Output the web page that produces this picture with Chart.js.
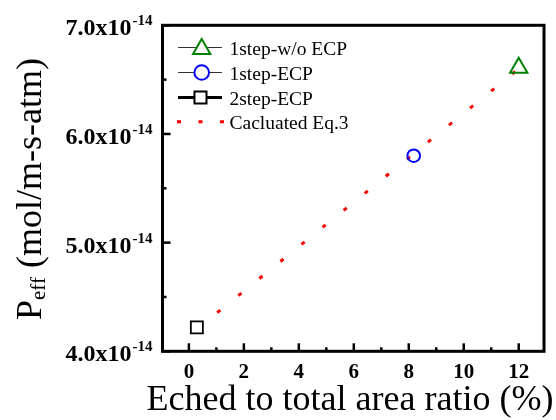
<!DOCTYPE html>
<html><head><meta charset="utf-8">
<script src="https://cdn.jsdelivr.net/npm/chart.js@4/dist/chart.umd.min.js"></script>
<style>html,body{margin:0;padding:0;background:#fff;} #wrap{width:556px;height:420px;position:relative;}</style>
</head><body><div id="wrap"><canvas id="c" width="556" height="420"></canvas></div>
<script>
// ---- data (y in units of 1e-14 mol/m-s-atm) ----
const seriesNames = ['1step-w/o ECP', '1step-ECP', '2step-ECP', 'Cacluated Eq.3'];
const woEcpX = [12.0];  const woEcpY = [6.61];
const ecp1X  = [8.18];  const ecp1Y  = [5.80];
const ecp2X  = [0.29];  const ecp2Y  = [4.22];
const calcX  = [1.03, 12.0]; const calcY = [4.356, 6.60];
const xMajorTicks = [0, 2, 4, 6, 8, 10, 12];
const xMinorTicks = [1, 3, 5, 7, 9, 11];
const yMajorTicks = [4, 5, 6, 7];
const yMinorTicks = [4.5, 5.5, 6.5];
const yTickLabels = ['4.0x10', '5.0x10', '6.0x10', '7.0x10'];
const yTickExp = '-14';
const xTitle = 'Eched to total area ratio (%)';
const yTitleMain = 'P', yTitleSub = 'eff', yTitleRest = ' (mol/m-s-atm)';

const pts = (xs, ys) => xs.map((x, i) => ({x: x, y: ys[i]}));
const SERIF = "'Liberation Serif','Times New Roman',serif";

const decor = {
  id: 'decor',
  afterDraw(chart) {
    const ctx = chart.ctx, a = chart.chartArea;
    const xs = chart.scales.x, ys = chart.scales.y;
    ctx.save();
    // frame
    ctx.strokeStyle = '#000'; ctx.lineWidth = 3;
    ctx.strokeRect(a.left, a.top, a.right - a.left, a.bottom - a.top);
    // inward ticks
    ctx.lineWidth = 2.5;
    const tick = (x1, y1, x2, y2) => { ctx.beginPath(); ctx.moveTo(x1, y1); ctx.lineTo(x2, y2); ctx.stroke(); };
    xMajorTicks.forEach(v => { const p = xs.getPixelForValue(v); tick(p, a.bottom, p, a.bottom - 8); });
    xMinorTicks.forEach(v => { const p = xs.getPixelForValue(v); tick(p, a.bottom, p, a.bottom - 4); });
    yMajorTicks.forEach(v => { const p = ys.getPixelForValue(v); tick(a.left, p, a.left + 8, p); });
    yMinorTicks.forEach(v => { const p = ys.getPixelForValue(v); tick(a.left, p, a.left + 4, p); });
    // x tick labels
    ctx.fillStyle = '#000';
    ctx.font = "bold 21px " + SERIF; ctx.textAlign = 'center'; ctx.textBaseline = 'alphabetic';
    xMajorTicks.forEach(v => ctx.fillText(String(v), xs.getPixelForValue(v), 378));
    // y tick labels with superscript
    yMajorTicks.forEach((v, i) => {
      const p = ys.getPixelForValue(v);
      const right = a.left - 10;
      ctx.textAlign = 'right';
      ctx.font = "bold 15px " + SERIF;
      const ew = ctx.measureText(yTickExp).width;
      ctx.fillText(yTickExp, right, p);
      ctx.font = "bold 24px " + SERIF;
      ctx.fillText(yTickLabels[i], right - ew - 1, p + 10);
    });
    // x title
    ctx.font = "36px " + SERIF; ctx.textAlign = 'center';
    ctx.fillText(xTitle, 350, 410);
    // y title (rotated)
    ctx.save();
    ctx.translate(41, 320); ctx.rotate(-Math.PI / 2);
    ctx.textAlign = 'left';
    ctx.font = "36px " + SERIF;
    ctx.fillText(yTitleMain, 0, 0);
    let off = ctx.measureText(yTitleMain).width;
    ctx.font = "21px " + SERIF;
    ctx.fillText(yTitleSub, off, 4);
    off += ctx.measureText(yTitleSub).width;
    ctx.font = "36px " + SERIF;
    ctx.fillText(yTitleRest, off, 0);
    ctx.restore();
    // legend
    const rows = [47.5, 72.5, 97.5, 121.7];
    ctx.textAlign = 'left'; ctx.font = "19.5px " + SERIF;
    seriesNames.forEach((n, i) => ctx.fillText(n, 229.5, rows[i] + 7));
    ctx.strokeStyle = '#333'; ctx.lineWidth = 1.2;
    tick(178, rows[0], 222, rows[0]);
    tick(178, rows[1], 222, rows[1]);
    ctx.strokeStyle = '#000'; ctx.lineWidth = 3;
    tick(178, rows[2], 222, rows[2]);
    // legend markers
    ctx.fillStyle = '#fff'; ctx.lineWidth = 2;
    ctx.strokeStyle = 'rgb(0,128,0)';
    ctx.beginPath(); const cx = 201.7, cy = rows[0] + 1.5, r = 10;
    ctx.moveTo(cx, cy - r); ctx.lineTo(cx + r * 0.866, cy + r / 2); ctx.lineTo(cx - r * 0.866, cy + r / 2); ctx.closePath();
    ctx.fill(); ctx.stroke();
    ctx.strokeStyle = 'rgb(0,0,255)';
    ctx.beginPath(); ctx.arc(201.7, rows[1], 7.3, 0, Math.PI * 2); ctx.fill(); ctx.stroke();
    ctx.strokeStyle = '#000';
    ctx.beginPath(); ctx.rect(194.5, rows[2] - 6, 12, 12); ctx.fill(); ctx.stroke();
    ctx.strokeStyle = 'rgb(255,0,0)'; ctx.lineWidth = 3; ctx.setLineDash([4, 17.5]);
    tick(177, rows[3], 224, rows[3]);
    ctx.setLineDash([]);
    ctx.restore();
  }
};

new Chart(document.getElementById('c'), {
  type: 'scatter',
  data: {
    datasets: [
      { label: seriesNames[3], type: 'line', data: pts(calcX, calcY), showLine: true,
        borderColor: 'rgb(255,0,0)', borderWidth: 3, borderDash: [4, 23.1], borderCapStyle: 'butt',
        pointRadius: 0, fill: false, order: 3 },
      { label: seriesNames[0], data: pts(woEcpX, woEcpY), pointStyle: 'triangle', pointRadius: 10,
        borderColor: 'rgb(0,128,0)', backgroundColor: 'rgba(0,0,0,0)', borderWidth: 2, order: 1 },
      { label: seriesNames[1], data: pts(ecp1X, ecp1Y), pointStyle: 'circle', pointRadius: 6.3,
        borderColor: 'rgb(0,0,255)', backgroundColor: 'rgba(0,0,0,0)', borderWidth: 2, order: 1 },
      { label: seriesNames[2], data: pts(ecp2X, ecp2Y), pointStyle: 'rect', pointRadius: 8.5,
        borderColor: '#000', backgroundColor: 'rgba(0,0,0,0)', borderWidth: 1.8, order: 1 }
    ]
  },
  options: {
    responsive: false, animation: false, devicePixelRatio: 1,
    layout: { padding: { left: 162.5, right: 5.5, top: 25.3, bottom: 68.7 } },
    plugins: { legend: { display: false }, tooltip: { enabled: false } },
    scales: {
      x: { type: 'linear', min: -0.96, max: 12.92, display: false },
      y: { type: 'linear', min: 4, max: 7, display: false }
    }
  },
  plugins: [decor]
});
</script>
</body></html>
